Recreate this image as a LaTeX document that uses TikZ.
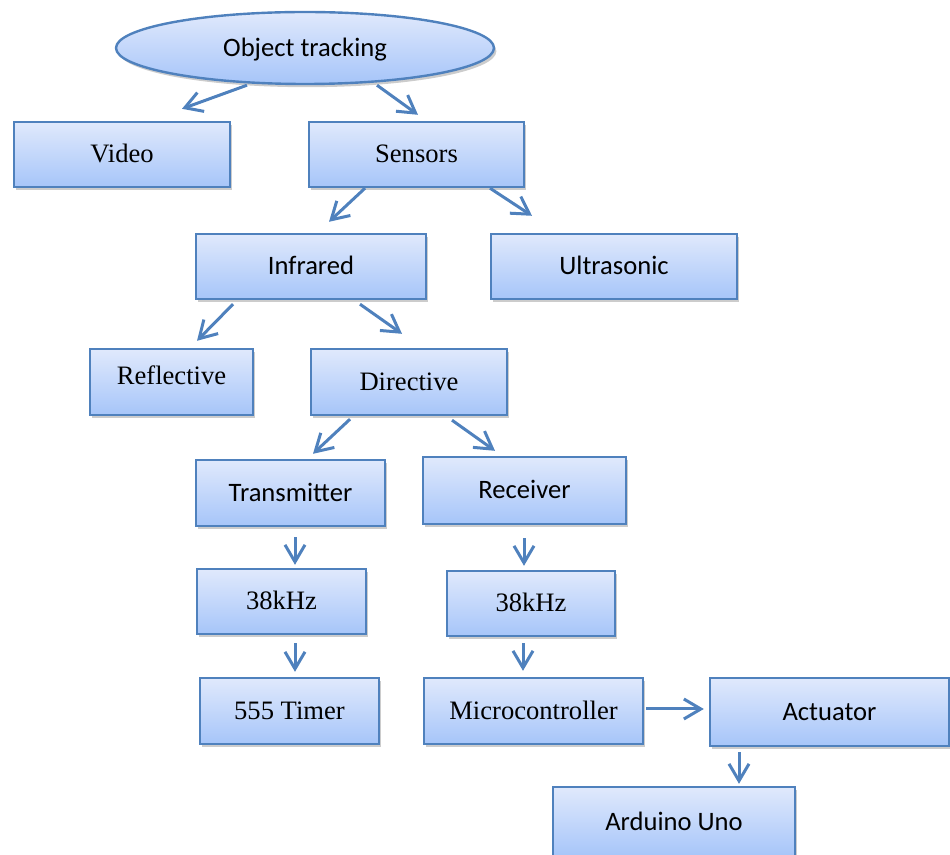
\documentclass[tikz,border=0pt]{standalone}
\usepackage{fontspec}
\setmainfont{Liberation Serif}
\newfontfamily\calibri{Carlito}
\usetikzlibrary{calc}
\usetikzlibrary{arrows.meta}
\usetikzlibrary{shapes.geometric}
\usetikzlibrary{shadows}

\definecolor{boxline}{RGB}{79,129,189}
\definecolor{boxtop}{RGB}{224,233,252}
\definecolor{boxbot}{RGB}{166,197,249}

\begin{document}
\begin{tikzpicture}[x=0.5pt, y=-0.5pt,
  box/.style={draw=boxline, line width=1.2pt, top color=boxtop, bottom color=boxbot,
    drop shadow={shadow xshift=1.2pt, shadow yshift=-1.6pt, fill=black, opacity=0.2},
    inner sep=0pt, text height=10pt, text depth=1.5pt, font=\fontsize{13.3}{15}\selectfont},
  sbox/.style={box, font=\calibri\fontsize{13.3}{15}\selectfont},
  arr/.style={draw=boxline, line width=1.5pt, arrows={-Straight Barb[length=8.5pt, width=10pt]}}]
\def\u{0.5pt}
\useasboundingbox (0, 0) rectangle (950, 855);

\node (obj) [sbox, ellipse, minimum width=378*\u, minimum height=72*\u] at (305, 48) {Object tracking};

\node (video) [box, minimum width=216*\u, minimum height=65*\u] at (122, 154.5) {Video};
\node (sens) [box, minimum width=215*\u, minimum height=65*\u] at (416.5, 154.5) {Sensors};

\node (ir) [sbox, minimum width=230*\u, minimum height=65*\u] at (311, 266.5) {Infrared};
\node (us) [sbox, minimum width=246*\u, minimum height=65*\u] at (614, 266.5) {Ultrasonic};

\node (refl) [box, minimum width=163*\u, minimum height=66*\u, text depth=7.5pt] at (171.5, 382) {Reflective};
\node (dir) [box, minimum width=196*\u, minimum height=66*\u] at (409, 382) {Directive};

\node (tx) [sbox, minimum width=189*\u, minimum height=66*\u] at (290.5, 493) {Transmitter};
\node (rx) [sbox, minimum width=203*\u, minimum height=67*\u] at (524.5, 490.5) {Receiver};

\node (txf) [box, minimum width=169*\u, minimum height=65*\u] at (281.5, 601.5) {38kHz};
\node (rxf) [box, minimum width=168*\u, minimum height=65*\u] at (531, 603.5) {38kHz};

\node (timer) [box, minimum width=179*\u, minimum height=66*\u] at (289.5, 711) {555 Timer};
\node (mcu) [box, minimum width=219*\u, minimum height=66*\u] at (533.5, 711) {Microcontroller};
\node (act) [sbox, minimum width=239*\u, minimum height=68*\u] at (829.5, 712) {Actuator};

\node (ard) [sbox, minimum width=242*\u, minimum height=70*\u] at (674, 822) {Arduino Uno};

\draw [arr] ($(obj.south)+(-58,0)$) -- ($(video.north)+(60,-12)$);
\draw [arr] ($(obj.south)+(72,0)$) -- ($(sens.north)+(1.5,-6)$);

\draw [arr] ($(sens.south)+(-51.5,0)$) -- ($(ir.north)+(18,-11)$);
\draw [arr] ($(sens.south)+(73.5,0)$) -- ($(us.north)+(-82,-17)$);

\draw [arr] ($(ir.south)+(-78,4)$) -- ($(refl.north)+(25.5,-7)$);
\draw [arr] ($(ir.south)+(49,4)$) -- ($(dir.north)+(-7,-14)$);

\draw [arr] ($(dir.south)+(-59,3)$) -- ($(tx.north)+(22.5,-5)$);
\draw [arr] ($(dir.south)+(43,4)$) -- ($(rx.north)+(-29.5,-5)$);

\draw [arr] ($(tx.south)+(4.5,10)$) -- ($(txf.north)+(13.5,-3)$);
\draw [arr] ($(txf.south)+(13.5,8)$) -- ($(timer.north)+(5.5,-5)$);

\draw [arr] ($(rx.south)+(-0.5,13)$) -- ($(rxf.north)+(-7,-4)$);
\draw [arr] ($(rxf.south)+(-8,6)$) -- ($(mcu.north)+(-10.5,-6)$);

\draw [arr] ($(mcu.east)+(2,-2)$) -- ($(act.west)+(-5,-3)$);
\draw [arr] ($(act.south)+(-90.5,5)$) -- ($(ard.north)+(65,-2)$);
%\draw [arr] (timer) -- (mcu);
\end{tikzpicture}
\end{document}
